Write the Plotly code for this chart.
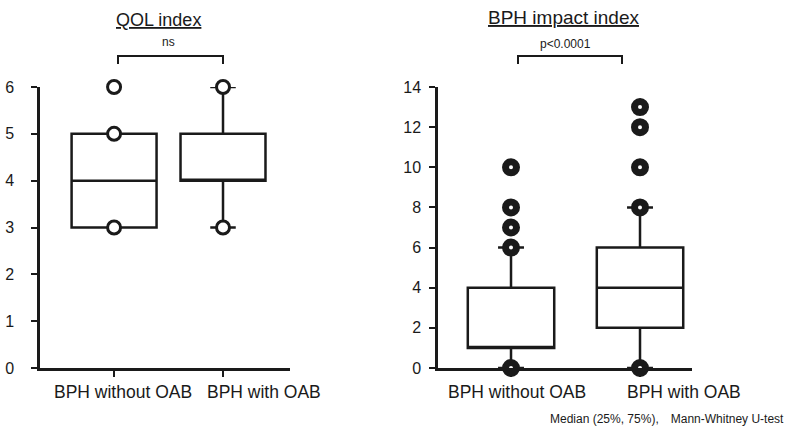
import plotly.graph_objects as go

categories = ["BPH without OAB", "BPH with OAB"]

# QOL index box statistics
qol_q1 = [3, 4]
qol_median = [4, 4]
qol_q3 = [5, 5]
qol_low = [3, 3]
qol_high = [5, 6]
qol_points_g1 = [6, 5, 3]
qol_points_g2 = [6, 3]

# BPH impact index box statistics
bii_q1 = [1, 2]
bii_median = [1, 4]
bii_q3 = [4, 6]
bii_low = [0, 0]
bii_high = [6, 8]
bii_points_g1 = [0, 6, 7, 8, 10]
bii_points_g2 = [0, 8, 10, 12, 13]

W, H = 788, 436
def px_x(p):
    return p / W
def px_y(p):
    return 1 - p / H

FONT = "Liberation Sans, Arial, sans-serif"
INK = "#1a1a1a"

fig = go.Figure()

fig.add_trace(go.Box(
    x=categories, q1=qol_q1, median=qol_median, q3=qol_q3,
    lowerfence=qol_low, upperfence=qol_high,
    boxpoints=False, width=0.78, whiskerwidth=0.3,
    fillcolor="white", line=dict(color=INK, width=2.5),
    xaxis="x", yaxis="y", hoverinfo="skip"))
fig.add_trace(go.Scatter(
    x=[categories[0]] * len(qol_points_g1) + [categories[1]] * len(qol_points_g2),
    y=qol_points_g1 + qol_points_g2, mode="markers", cliponaxis=False,
    marker=dict(symbol="circle", size=13, color="white", line=dict(color=INK, width=3)),
    xaxis="x", yaxis="y"))

fig.add_trace(go.Box(
    x=categories, q1=bii_q1, median=bii_median, q3=bii_q3,
    lowerfence=bii_low, upperfence=bii_high,
    boxpoints=False, width=0.67, whiskerwidth=0.3,
    fillcolor="white", line=dict(color=INK, width=2.5),
    xaxis="x2", yaxis="y2", hoverinfo="skip"))
fig.add_trace(go.Scatter(
    x=[categories[0]] * len(bii_points_g1) + [categories[1]] * len(bii_points_g2),
    y=bii_points_g1 + bii_points_g2, mode="markers", cliponaxis=False,
    marker=dict(symbol="circle", size=11, color="white", line=dict(color=INK, width=7)),
    xaxis="x2", yaxis="y2"))

axis_common = dict(showline=True, linecolor=INK, linewidth=2.5, ticks="outside",
                   ticklen=6, tickwidth=2, tickcolor=INK, showgrid=False, zeroline=False,
                   automargin=False,
                   tickfont=dict(family=FONT, size=16, color=INK))

ydom = [px_y(368), px_y(87)]
fig.update_layout(
    width=W, height=H, margin=dict(l=0, r=0, t=0, b=0, autoexpand=False),
    paper_bgcolor="white", plot_bgcolor="white", showlegend=False,
    xaxis=dict(domain=[px_x(40), px_x(290)], type="category", range=[-0.68, 1.615],
               anchor="y", showticklabels=False, **axis_common),
    yaxis=dict(domain=ydom, range=[0, 6], dtick=1, anchor="x",
               ticklabelstandoff=14, **axis_common),
    xaxis2=dict(domain=[px_x(438), px_x(692)], type="category", range=[-0.566, 1.403],
                anchor="y2", showticklabels=False, **axis_common),
    yaxis2=dict(domain=ydom, range=[0, 14], dtick=2, anchor="x2",
                ticklabelstandoff=5, **axis_common),
)

# category labels (positioned as in the original layout)
label_centers = [(123, 264), (517, 684)]
for centers in label_centers:
    for cat, cx in zip(categories, centers):
        fig.add_annotation(text=cat, x=px_x(cx), y=px_y(392), xref="paper", yref="paper",
                           xanchor="center", yanchor="middle", showarrow=False,
                           font=dict(family=FONT, size=17.5, color=INK))

# significance brackets
for x0, x1 in [(118, 223), (518, 622)]:
    fig.add_shape(type="path",
                  path=f"M {px_x(x0)} {px_y(64)} L {px_x(x0)} {px_y(56)} L {px_x(x1)} {px_y(56)} L {px_x(x1)} {px_y(64)}",
                  xref="paper", yref="paper", line=dict(color=INK, width=2))

annos = [
    dict(text="<u>QOL index</u>", x=px_x(158), y=px_y(20), size=18),
    dict(text="<u>BPH impact index</u>", x=px_x(564), y=px_y(18), size=19),
    dict(text="ns", x=px_x(168), y=px_y(42), size=12),
    dict(text="p&lt;0.0001", x=px_x(565), y=px_y(44), size=12),
]
for a in annos:
    fig.add_annotation(text=a["text"], x=a["x"], y=a["y"], xref="paper", yref="paper",
                       xanchor="center", yanchor="middle", showarrow=False,
                       font=dict(family=FONT, size=a["size"], color=INK))
fig.add_annotation(text="Median (25%, 75%),\u3000Mann-Whitney U-test",
                   x=px_x(786), y=px_y(419), xref="paper", yref="paper",
                   xanchor="right", yanchor="middle", showarrow=False,
                   font=dict(family=FONT, size=12, color=INK))

fig.write_html("out.html")
